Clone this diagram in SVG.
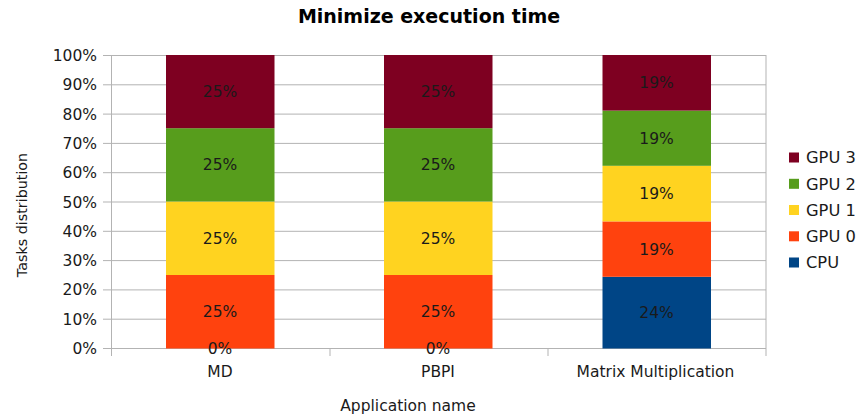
<svg xmlns="http://www.w3.org/2000/svg" width="858" height="419" viewBox="0 0 858 419">
<style>
text{font-family:"DejaVu Sans","Liberation Sans",sans-serif;font-size:15.5px;fill:#1a1a1a}
.t{font-weight:bold;font-size:19px;fill:#000}
.yl{text-anchor:end}
.c{text-anchor:middle}
.lg{font-size:16.3px}
.g{stroke:#b3b3b3;stroke-width:1;fill:none}
.cpu{fill:#004586}.g0{fill:#ff420e}.g1{fill:#ffd320}.g2{fill:#579d1c}.g3{fill:#7e0021}
</style>
<rect width="858" height="419" fill="#fff"/>
<text class="t c" x="429" y="23">Minimize execution time</text>
<g id="grid" class="g">
<path d="M103 55.5H766M103 84.8H766M103 114.1H766M103 143.4H766M103 172.7H766M103 202H766M103 231.3H766M103 260.6H766M103 289.9H766M103 319.2H766M103 348.5H766"/>
<path d="M111.5 55V356M766 55V356M330 348V356M548 348V356"/>
</g>
<g id="yaxis">
<text class="yl" x="97" y="61">100%</text>
<text class="yl" x="97" y="90.3">90%</text>
<text class="yl" x="97" y="119.6">80%</text>
<text class="yl" x="97" y="148.9">70%</text>
<text class="yl" x="97" y="178.2">60%</text>
<text class="yl" x="97" y="207.5">50%</text>
<text class="yl" x="97" y="236.8">40%</text>
<text class="yl" x="97" y="266.1">30%</text>
<text class="yl" x="97" y="295.4">20%</text>
<text class="yl" x="97" y="324.7">10%</text>
<text class="yl" x="97" y="354">0%</text>
<text class="c" transform="translate(27 215) rotate(-90)" style="font-size:14.3px">Tasks distribution</text>
</g>
<g id="bar-md">
<rect class="g0" x="166" y="275" width="108.5" height="73.5"/>
<rect class="g1" x="166" y="201.5" width="108.5" height="73.5"/>
<rect class="g2" x="166" y="128.2" width="108.5" height="73.3"/>
<rect class="g3" x="166" y="55" width="108.5" height="73.2"/>
<text class="c" x="220" y="353.5">0%</text>
<text class="c" x="220" y="317">25%</text>
<text class="c" x="220" y="243.7">25%</text>
<text class="c" x="220" y="170.4">25%</text>
<text class="c" x="220" y="97.2">25%</text>
<text class="c" x="220" y="377">MD</text>
</g>
<g id="bar-pbpi">
<rect class="g0" x="384" y="275" width="108.5" height="73.5"/>
<rect class="g1" x="384" y="201.5" width="108.5" height="73.5"/>
<rect class="g2" x="384" y="128.2" width="108.5" height="73.3"/>
<rect class="g3" x="384" y="55" width="108.5" height="73.2"/>
<text class="c" x="438" y="353.5">0%</text>
<text class="c" x="438" y="317">25%</text>
<text class="c" x="438" y="243.7">25%</text>
<text class="c" x="438" y="170.4">25%</text>
<text class="c" x="438" y="97.2">25%</text>
<text class="c" x="438" y="377">PBPI</text>
</g>
<g id="bar-mm">
<rect class="cpu" x="602.5" y="276.8" width="108.5" height="71.7"/>
<rect class="g0" x="602.5" y="221.4" width="108.5" height="55.4"/>
<rect class="g1" x="602.5" y="165.8" width="108.5" height="55.6"/>
<rect class="g2" x="602.5" y="110.6" width="108.5" height="55.2"/>
<rect class="g3" x="602.5" y="55" width="108.5" height="55.6"/>
<text class="c" x="656.5" y="318">24%</text>
<text class="c" x="656.5" y="254.7">19%</text>
<text class="c" x="656.5" y="199.2">19%</text>
<text class="c" x="656.5" y="143.8">19%</text>
<text class="c" x="656.5" y="88.4">19%</text>
<text class="c" x="655.5" y="377">Matrix Multiplication</text>
</g>
<text id="xtitle" class="c" x="408" y="411">Application name</text>
<g id="legend">
<rect class="g3" x="789" y="152.5" width="10" height="10"/><text class="lg" x="806" y="163.3">GPU 3</text>
<rect class="g2" x="789" y="178.8" width="10" height="10"/><text class="lg" x="806" y="189.6">GPU 2</text>
<rect class="g1" x="789" y="205" width="10" height="10"/><text class="lg" x="806" y="215.8">GPU 1</text>
<rect class="g0" x="789" y="231.3" width="10" height="10"/><text class="lg" x="806" y="242.1">GPU 0</text>
<rect class="cpu" x="789" y="257.5" width="10" height="10"/><text class="lg" x="806" y="268.3">CPU</text>
</g>
</svg>
